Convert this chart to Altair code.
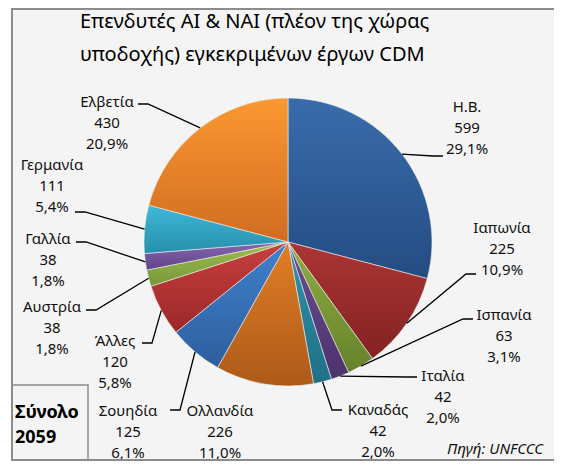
import math
import altair as alt
import pandas as pd

# ---- data ----
names = ["Η.Β.", "Ιαπωνία", "Ισπανία", "Ιταλία", "Καναδάς", "Ολλανδία",
         "Σουηδία", "Άλλες", "Αυστρία", "Γαλλία", "Γερμανία", "Ελβετία"]
values = [599, 225, 63, 42, 42, 226, 125, 120, 38, 38, 111, 430]
title_lines = ["Επενδυτές AI & NAI (πλέον της χώρας", "υποδοχής) εγκεκριμένων έργων CDM"]
total_lines = ["Σύνολο", "2059"]
source_text = "Πηγή: UNFCCC"

# ---- style ----
top_colors = ["#3a6cab", "#ac3535", "#8fae40", "#6d4d93", "#2f94ad", "#e27e27",
              "#4081cc", "#c93f3f", "#9fc04d", "#8865b0", "#40b8da", "#fb9831"]
bottom_colors = ["#244c82", "#832222", "#66822c", "#4b336b", "#1f7085", "#ad5a19",
                 "#2d5e9c", "#9a2828", "#76963a", "#5f4487", "#258fab", "#d06c21"]

W, H = 543, 453
CX, CY, R = 277, 234, 144
FONT = "Noto Sans"
LINE_H = 21

# label layout (centre x, first-line y) and leader end points, in view pixels
label_xy = [(456, 99), (491, 220), (493, 307), (432, 368), (367, 402), (209, 403),
            (117, 403), (104, 333), (41, 299), (37, 231), (41, 157), (96, 94)]
leader_end = [(432, 148), (465, 266), (462, 311), (406, 369), (331, 402), None,
              (159, 402), (131, 335), (75, 302), (65, 234), (64, 204), (127, 96)]

total = sum(values)
df = pd.DataFrame({"name": names, "value": values})
df["end"] = df["value"].cumsum()
df["start"] = df["end"] - df["value"]
df["pct"] = (df["value"] / total * 100).map(lambda v: f"{v:.1f}".replace(".", ",") + "%")
df["label"] = df["name"] + "\n" + df["value"].astype(str) + "\n" + df["pct"]
df["lx"] = [p[0] for p in label_xy]
df["ly"] = [p[1] for p in label_xy]

theta_scale = alt.Scale(domain=[0, total], range=[0, 2 * math.pi])

layers = []
for i, n in enumerate(names):
    grad = alt.Gradient(
        gradient="linear", x1=0, y1=0, x2=0, y2=1,
        stops=[alt.GradientStop(offset=0, color=top_colors[i]),
               alt.GradientStop(offset=1, color=bottom_colors[i])],
    )
    layers.append(
        alt.Chart(df).transform_filter(alt.datum.name == n)
        .mark_arc(outerRadius=R, color=grad, stroke="#eeeeee", strokeWidth=0.6)
        .encode(theta=alt.Theta("start:Q", scale=theta_scale),
                theta2="end:Q",
                x=alt.value(CX), y=alt.value(CY))
    )

# leader lines: start on pie edge at mid-angle of slice
rows = []
for i, r in df.iterrows():
    t = leader_end[i]
    if t is None:
        continue
    mid = (r["start"] + r["end"]) / 2 / total * 2 * math.pi
    sx, sy = CX + R * math.sin(mid), CY - R * math.cos(mid)
    ex = t[0] - 10 if sx < t[0] else t[0] + 10
    rows += [
        {"name": r["name"], "k": 0, "px": sx, "py": sy},
        {"name": r["name"], "k": 1, "px": ex, "py": t[1]},
        {"name": r["name"], "k": 2, "px": t[0], "py": t[1]},
    ]
lead = pd.DataFrame(rows)
layers.append(
    alt.Chart(lead).mark_line(color="#000000", strokeWidth=1.3)
    .encode(x=alt.X("px:Q", scale=None), y=alt.Y("py:Q", scale=None),
            detail="name:N", order="k:Q")
)

layers.append(
    alt.Chart(df).mark_text(font=FONT, fontSize=15, lineBreak="\n", lineHeight=LINE_H,
                            align="center", baseline="middle", color="#111111")
    .encode(x=alt.X("lx:Q", scale=None), y=alt.Y("ly:Q", scale=None), text="label:N")
)

# title
tdf = pd.DataFrame({"t": title_lines, "ty": [14, 47]})
layers.append(
    alt.Chart(tdf).mark_text(font=FONT, fontSize=20, align="left", baseline="middle",
                             color="#000000")
    .encode(x=alt.value(69), y=alt.Y("ty:Q", scale=None), text="t:N")
)

# total box
bdf = pd.DataFrame({"a": [0]})
layers.append(
    alt.Chart(bdf).mark_rect(fill=None, stroke="#8c8c8c", strokeWidth=1.5)
    .encode(x=alt.value(1), x2=alt.value(77), y=alt.value(377), y2=alt.value(H))
)
sdf = pd.DataFrame({"t": total_lines, "ty": [405, 430]})
layers.append(
    alt.Chart(sdf).mark_text(font=FONT, fontSize=18, fontWeight="bold", align="left",
                             baseline="middle", color="#000000")
    .encode(x=alt.value(4), y=alt.Y("ty:Q", scale=None), text="t:N")
)
layers.append(
    alt.Chart(bdf).mark_text(font=FONT, fontSize=15, fontStyle="italic", align="right",
                             baseline="middle", color="#111111", text=source_text)
    .encode(x=alt.value(532), y=alt.value(441))
)

# outer border (left, top, bottom)
layers.append(alt.Chart(bdf).mark_rule(color="#8c8c8c", strokeWidth=2)
              .encode(x=alt.value(1), y=alt.value(0), y2=alt.value(H)))
layers.append(alt.Chart(bdf).mark_rule(color="#8c8c8c", strokeWidth=2)
              .encode(x=alt.value(0), x2=alt.value(W), y=alt.value(1)))
layers.append(alt.Chart(bdf).mark_rule(color="#8c8c8c", strokeWidth=2)
              .encode(x=alt.value(0), x2=alt.value(W), y=alt.value(H - 1)))

chart = (
    alt.layer(*layers)
    .properties(width=W, height=H, autosize="none",
                padding={"left": 3, "top": 0, "right": 0, "bottom": 0})
    .configure_view(stroke=None, fill="#f4f4f4")
)

chart.save("out.html", embed_options={"renderer": "svg", "actions": False})
